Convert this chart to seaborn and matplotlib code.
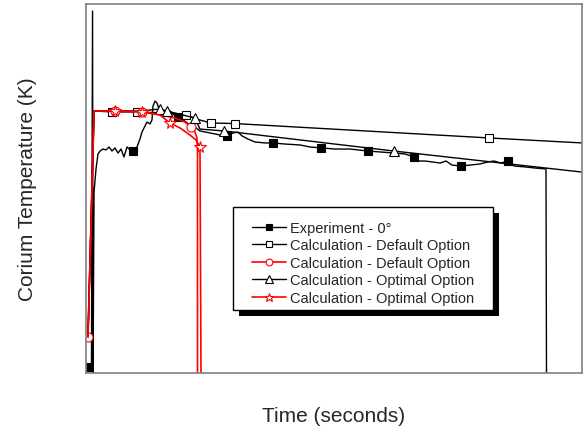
import numpy as np
import pandas as pd
import matplotlib
matplotlib.use("Agg")
import matplotlib.pyplot as plt
from matplotlib.patches import Rectangle
import seaborn as sns

# Experiment - 0 deg (time s, temperature K)
exp_time = [20, 55, 66, 71, 81, 101, 121, 141, 171, 202, 232, 262, 292, 323, 353, 383, 413, 444, 474,
            514, 544, 564, 595, 615, 645, 665, 675, 696, 716, 736, 766, 806, 847, 887, 927, 958,
            1008, 1058, 1099, 1149, 1250, 1351, 1421, 1482, 1532, 1573, 1633, 1704, 1804, 1885,
            2006, 2157, 2258, 2369, 2510, 2661, 2843, 2964, 3115, 3216, 3306, 3347, 3417, 3488,
            3569, 3629, 3690, 3780, 3871, 3972, 4052, 4113, 4183, 4254, 4314, 4425, 4526, 4637, 4642]
exp_temp = [1033, 1033, 2962, 1000, 1981, 2106, 2187, 2203, 2214, 2209, 2225, 2203, 2220, 2192, 2214,
            2171, 2225, 2209, 2203, 2225, 2268, 2306, 2339, 2360, 2350, 2371, 2447, 2474, 2463, 2431,
            2425, 2415, 2420, 2398, 2390, 2382, 2360, 2339, 2333, 2312, 2301, 2290, 2285, 2301, 2306,
            2285, 2268, 2252, 2247, 2247, 2241, 2236, 2225, 2220, 2214, 2214, 2203, 2198, 2192, 2187,
            2171, 2149, 2149, 2144, 2138, 2149, 2127, 2122, 2127, 2133, 2144, 2149, 2138, 2149, 2122,
            2117, 2111, 2106, 1000]
exp_marks = [20, 474, 927, 1421, 1885, 2369, 2843, 3306, 3780, 4254]

# Calculation - Default Option (black)
def_time = [20, 81, 262, 514, 796, 1008, 1149, 1260, 1502, 4062, 5000]
def_temp = [1195, 2420, 2415, 2415, 2409, 2398, 2371, 2355, 2352, 2274, 2247]
def_marks = [262, 514, 1008, 1260, 1502, 4062]

# Calculation - Default Option (red)
dfr_time = [20, 81, 292, 564, 766, 897, 998, 1058, 1094, 1116, 1124, 1124]
dfr_temp = [1195, 2420, 2420, 2415, 2398, 2382, 2360, 2333, 2312, 2279, 2225, 1000]
dfr_marks = [20, 292, 564, 1058]

# Calculation - Optimal Option (black)
opt_time = [20, 81, 544, 746, 816, 1099, 1149, 1391, 3105, 5000]
opt_temp = [1195, 2420, 2420, 2431, 2420, 2382, 2322, 2312, 2203, 2089]
opt_marks = [746, 816, 1099, 1391, 3105]

# Calculation - Optimal Option (red)
opr_time = [20, 81, 292, 564, 746, 847, 948, 1048, 1109, 1149, 1159]
opr_temp = [1195, 2420, 2420, 2415, 2398, 2355, 2328, 2290, 2263, 2225, 1000]
opr_marks = [292, 564, 847, 1149]

sns.set_style("white")
plt.rcParams["font.family"] = ["Liberation Sans", "DejaVu Sans"]

fig = plt.figure(figsize=(5.83, 4.31), dpi=100)
ax = fig.add_axes([86 / 583, 1 - 374 / 431, 496 / 583, 369 / 431])

series = [
    (exp_time, exp_temp, exp_marks, "Experiment - 0°", "black", "s", "black", 6, 1.0),
    (def_time, def_temp, def_marks, "Calculation - Default Option", "black", "s", "white", 6, 1.0),
    (dfr_time, dfr_temp, dfr_marks, "Calculation - Default Option", "red", "o", "white", 6.5, 1.2),
    (opt_time, opt_temp, opt_marks, "Calculation - Optimal Option", "black", "^", "white", 7, 1.0),
    (opr_time, opr_temp, opr_marks, "Calculation - Optimal Option", "red", "*", "white", 8.5, 1.2),
]

for t, T, marks, label, col, mk, fc, ms, lw in series:
    d = pd.DataFrame({"time": t, "temp": T})
    every = list(np.where(np.isin(d["time"], marks))[0])
    sns.lineplot(data=d, x="time", y="temp", sort=False, estimator=None, ax=ax,
                 color=col, lw=lw, marker=mk, markevery=every, markersize=ms,
                 markerfacecolor=fc, markeredgecolor=col, markeredgewidth=0.8,
                 label=label)

ax.set_xlim(0, 5000)
ax.set_ylim(1000, 3000)
ax.set_xticks([])
ax.set_yticks([])
for s in ax.spines.values():
    s.set_color("#808080")
    s.set_linewidth(1.2)

ax.set_xlabel("Time (seconds)", fontsize=15, labelpad=24)
ax.set_ylabel("Corium Temperature (K)", fontsize=15, labelpad=35)

leg = ax.legend(loc="center", bbox_to_anchor=((363.5 - 86) / 496, (374 - 264) / 369),
                borderaxespad=0, fontsize=10.5, frameon=False, labelspacing=0.24,
                handlelength=2.3, handletextpad=0.3, borderpad=0, markerscale=0.75)
leg.set_zorder(7)

# legend box with a black drop shadow
fig.canvas.draw()
bb = leg.get_window_extent()
inv = ax.transAxes.inverted()
(fx0, fy0) = inv.transform((bb.x0 - 19, bb.y0 - 5))
(fx1, fy1) = inv.transform((bb.x1 + 18, bb.y1 + 14))
dx, dy = 6 / 496, 6 / 369
ax.add_patch(Rectangle((fx0 + dx, fy0 - dy), fx1 - fx0, fy1 - fy0, transform=ax.transAxes,
                       facecolor="black", edgecolor="none", zorder=5.5, clip_on=False))
ax.add_patch(Rectangle((fx0, fy0), fx1 - fx0, fy1 - fy0, transform=ax.transAxes,
                       facecolor="white", edgecolor="black", lw=1, zorder=6, clip_on=False))

fig.savefig("out.png", dpi=100)
